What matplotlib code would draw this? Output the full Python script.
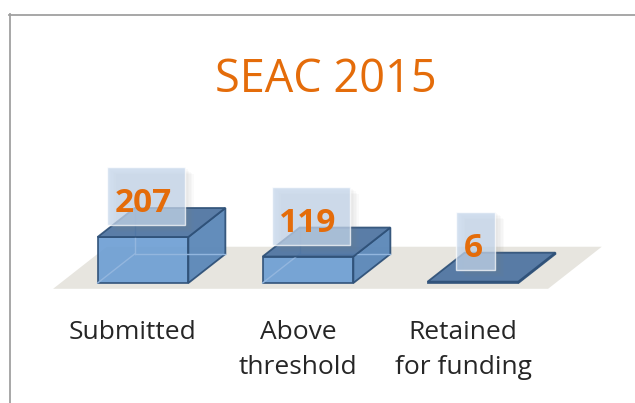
import numpy as np
import matplotlib.pyplot as plt
from matplotlib.patches import Polygon, Rectangle
from matplotlib.lines import Line2D

plt.rcParams['font.family'] = ['Open Sans', 'DejaVu Sans']

# data
categories = ['Submitted', 'Above\nthreshold', 'Retained\nfor funding']
values = [207, 119, 6]
title = 'SEAC 2015'

orange = '#E46C0A'
front_c = '#6B9DD3'
side_c = '#5B87B8'
top_c = '#4C72A0'
edge_c = '#2F5178'
hidden_c = '#93B6DE'
floor_c = '#E7E5DF'

W, H = 635, 403
fig = plt.figure(figsize=(W / 100, H / 100), dpi=100)
ax = fig.add_axes([0, 0, 1, 1])

# scales: one category step = 165 px, one px = 4.5 value units
sx = 1 / 165.
sz = 4.5
x0_px, base_px = 143, 283
ax.set_xlim(-x0_px * sx, (W - x0_px) * sx)
ax.set_ylim(-(H - base_px) * sz, base_px * sz)
ax.axis('off')

# oblique depth direction
DX, DZ = 37 * sx, 29 * sz


def P(x, z, d):
    return (x + d * DX, z + d * DZ)


n = len(values)

# floor
floor = Polygon([P(-0.5, 0, -0.2), P(n - 0.5, 0, -0.2),
                 P(n - 0.5, 0, 1.25), P(-0.5, 0, 1.25)],
                closed=True, fc=floor_c, ec='none', zorder=1)
ax.add_patch(floor)

bw = 0.275
for i, v in enumerate(values):
    xa, xb = i - bw, i + bw
    # hidden edges seen through the box
    if v > 20:
        for seg in [(P(xa, 0, 0), P(xa, 0, 1)), (P(xa, 0, 1), P(xb, 0, 1)),
                    (P(xa, 0, 1), P(xa, v, 1))]:
            ax.add_line(Line2D([seg[0][0], seg[1][0]], [seg[0][1], seg[1][1]],
                               color=hidden_c, lw=1.0, zorder=3))
    front = Polygon([P(xa, 0, 0), P(xb, 0, 0), P(xb, v, 0), P(xa, v, 0)],
                    closed=True, fc=front_c, ec=edge_c, lw=1.3, alpha=0.9, zorder=2)
    side = Polygon([P(xb, 0, 0), P(xb, 0, 1), P(xb, v, 1), P(xb, v, 0)],
                   closed=True, fc=side_c, ec=edge_c, lw=1.3, alpha=0.95, zorder=2)
    top = Polygon([P(xa, v, 0), P(xb, v, 0), P(xb, v, 1), P(xa, v, 1)],
                  closed=True, fc=top_c, ec=edge_c, lw=1.3, alpha=0.92, zorder=4)
    ax.add_patch(front)
    ax.add_patch(side)
    ax.add_patch(top)

    # label box
    lab = str(v)
    bwid = 19.5 * (len(lab) + 1) * sx
    bx = i + 2.5 * sx - bwid / 2
    bz = v + 12 * sz
    bh = 58 * sz
    for k in range(1, 7):
        ax.add_patch(Rectangle((bx + k * 1.5 * sx, bz - k * 1.2 * sz), bwid, bh,
                               fc='#808080', ec='none', alpha=0.035, zorder=5))
    ax.add_patch(Rectangle((bx, bz), bwid, bh, fc='#C4D6EC', ec='white',
                           lw=1.0, alpha=0.72, zorder=6))
    ax.text(i, v + 25 * sz, lab, ha='center', va='baseline', fontsize=24,
            fontweight='bold', color=orange, zorder=7)

    # category label
    ax.text(i - 10 * sx, -(320 - base_px) * sz, categories[i], ha='center',
            va='top', fontsize=19, color='#262626', linespacing=1.5, zorder=7)

fig.text(326 / W, 1 - 92 / H, title, ha='center', va='baseline',
         fontsize=32.5, color=orange)

# frame lines on left and top
fig.add_artist(Line2D([9.5 / W, 9.5 / W], [0, 1 - 14 / H], transform=fig.transFigure,
                      color='#A0A0A0', lw=1.3))
fig.add_artist(Line2D([9 / W, 1], [1 - 14.5 / H, 1 - 14.5 / H], transform=fig.transFigure,
                      color='#A0A0A0', lw=1.3))

fig.savefig('out.png', dpi=100)
